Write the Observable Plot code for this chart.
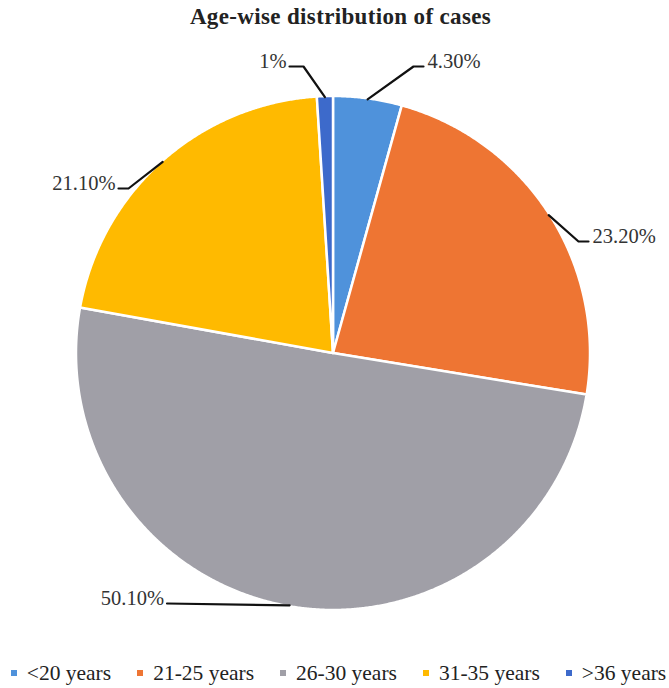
<!DOCTYPE html>
<html>
<head>
<meta charset="utf-8">
<script src="https://cdn.jsdelivr.net/npm/d3@7"></script>
<script src="https://cdn.jsdelivr.net/npm/@observablehq/plot@0.6"></script>
<style>
  html, body { margin: 0; padding: 0; background: #fff; }
  body { width: 669px; height: 688px; overflow: hidden; font-family: "Liberation Serif", "DejaVu Serif", serif; }
  #title { height: 32px; line-height: 34px; text-align: center; font-weight: bold; font-size: 23px; letter-spacing: 0.35px; color: #222; padding-left: 12px; }
  #legend { display: flex; justify-content: center; align-items: center; gap: 26px; font-size: 21.5px; line-height: 24px; height: 24px; color: #222; margin-top: 11px; padding-left: 8px; }
  #legend .item { display: flex; align-items: center; gap: 10px; }
  #legend .sw { width: 6px; height: 6px; display: inline-block; }
</style>
</head>
<body>
<div id="title">Age-wise distribution of cases</div>
<div id="chart"></div>
<div id="legend"></div>
<script>
// ---- data ----
const categories = ["<20 years", "21-25 years", "26-30 years", "31-35 years", ">36 years"];
const values = [4.3, 23.2, 50.1, 21.1, 1];
const valueLabels = ["4.30%", "23.20%", "50.10%", "21.10%", "1%"];
const colors = ["#4F92DB", "#EE7533", "#A09FA7", "#FFBA00", "#3D6ACB"];

// ---- layout ----
const W = 669, H = 618;
const cx = 332.5, cy = 320.5, R = 257;
// leader elbow offsets (relative to centre) and horizontal run length
const leaderElbow = [[80.5, -286.5, 10], [245.5, -111.5, 10], [-166, 250.5, 0], [-204.5, -164.5, -10], [-29.5, -286.5, -14]];

const pie = d3.pie().sort(null).value(d => d)(values);

const slicePts = [];
pie.forEach((p, i) => {
  const cat = categories[i];
  slicePts.push({cat, x: cx, y: cy});
  const n = Math.max(4, Math.ceil((p.endAngle - p.startAngle) / 0.005));
  for (let k = 0; k <= n; k++) {
    const a = p.startAngle + (p.endAngle - p.startAngle) * k / n;
    slicePts.push({cat, x: cx + R * Math.sin(a), y: cy - R * Math.cos(a)});
  }
  slicePts.push({cat, x: cx, y: cy});
});

const leaderPts = [];
const labels = [];
pie.forEach((p, i) => {
  const mid = (p.startAngle + p.endAngle) / 2;
  const sx = cx + (R - 1) * Math.sin(mid), sy = cy - (R - 1) * Math.cos(mid);
  const [ex, ey, run] = leaderElbow[i];
  const exA = cx + ex, eyA = cy + ey;
  const endX = exA + run;
  leaderPts.push({id: i, x: sx, y: sy}, {id: i, x: exA, y: eyA}, {id: i, x: endX, y: eyA});
  const right = Math.sin(mid) > 0;
  labels.push({text: valueLabels[i], x: endX + (right ? 4 : -3), y: eyA - 5, right});
});

const plot = Plot.plot({
  width: W, height: H,
  margin: 0,
  x: {domain: [0, W], range: [0, W], axis: null},
  y: {domain: [0, H], range: [0, H], axis: null},
  color: {domain: categories, range: colors},
  style: {fontFamily: "'Liberation Serif', 'DejaVu Serif', serif", background: "#fff"},
  marks: [
    Plot.line(slicePts, {x: "x", y: "y", z: "cat", fill: "cat", stroke: "#fff", strokeWidth: 2.5, strokeLinejoin: "round"}),
    Plot.line(leaderPts, {x: "x", y: "y", z: "id", stroke: "#111", strokeWidth: 2.2}),
    Plot.text(labels.filter(d => d.right), {x: "x", y: "y", text: "text", textAnchor: "start", fontSize: 20.5, fill: "#333"}),
    Plot.text(labels.filter(d => !d.right), {x: "x", y: "y", text: "text", textAnchor: "end", fontSize: 20.5, fill: "#333"})
  ]
});
document.getElementById("chart").appendChild(plot);

const legend = document.getElementById("legend");
categories.forEach((c, i) => {
  const it = document.createElement("div");
  it.className = "item";
  const sw = document.createElement("span");
  sw.className = "sw";
  sw.style.background = colors[i];
  const t = document.createElement("span");
  t.textContent = c;
  it.appendChild(sw); it.appendChild(t);
  legend.appendChild(it);
});
</script>
</body>
</html>
